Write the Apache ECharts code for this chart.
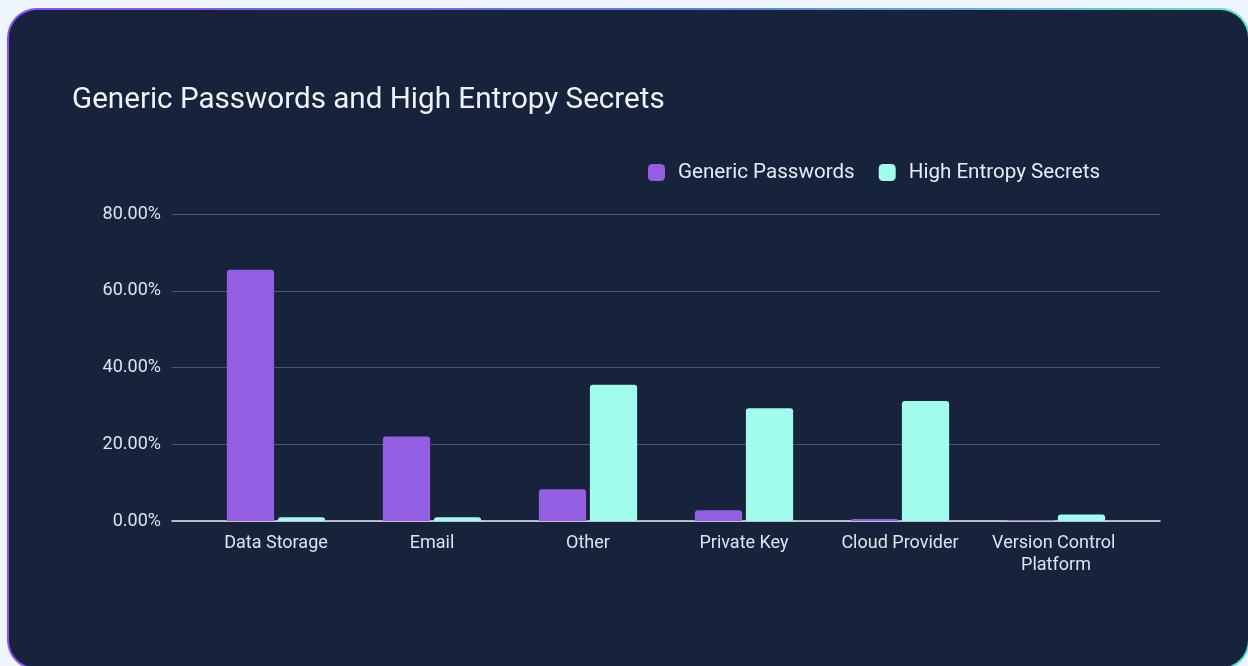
<!DOCTYPE html>
<html>
<head>
<meta charset="utf-8">
<script src="https://cdn.jsdelivr.net/npm/echarts@6/dist/echarts.min.js"></script>
<style>
  html, body { margin: 0; padding: 0; width: 1248px; height: 666px; overflow: hidden; background: #eef5fe; }
  .card {
    position: absolute; left: 7px; top: 8px; width: 1243px; height: 662px;
    box-sizing: border-box; border-radius: 30px; border: 2px solid transparent;
    background: linear-gradient(#17223b, #17223b) padding-box,
                linear-gradient(90deg, #8d4dfa 0%, #5b7fe0 55%, #5fe3d2 100%) border-box;
  }
  #chart { position: absolute; left: 0; top: 0; width: 1248px; height: 666px; }
</style>
</head>
<body>
<div class="card"></div>
<div id="chart"></div>
<script>
// Share of findings per secret category (percent)
const categories = ['Data Storage', 'Email', 'Other', 'Private Key', 'Cloud Provider', 'Version Control Platform'];
const genericPasswords = [65.5, 22.0, 8.3, 2.8, 0.5, 0.2];
const highEntropySecrets = [1.0, 1.0, 35.5, 29.4, 31.3, 1.7];
const yTicks = [0, 20, 40, 60, 80];

const labelColor = '#dde3f0';
const chart = echarts.init(document.getElementById('chart'), null, { renderer: 'canvas' });

chart.setOption({
  backgroundColor: 'transparent',
  animation: false,
  title: {
    text: 'Generic Passwords and High Entropy Secrets',
    left: 72, top: 86, padding: 0,
    textStyle: { color: '#eef2fb', fontFamily: 'Roboto', fontSize: 29.6, fontWeight: 'normal' }
  },
  legend: {
    left: 648, top: 162, padding: 0,
    itemWidth: 17, itemHeight: 17, itemGap: 24,
    icon: 'roundRect',
    textStyle: { color: '#e6ebf7', fontFamily: 'Roboto', fontSize: 20.6, padding: [0, 0, 0, 8] },
    data: ['Generic Passwords', 'High Entropy Secrets']
  },
  grid: [
    { left: 172, right: 88, top: 214, bottom: 145 },
    { left: 198, right: 114, top: 214, bottom: 145 }
  ],
  xAxis: [
    {
      gridIndex: 0, type: 'category', data: [''],
      axisLine: { show: true, lineStyle: { color: '#e8e8ee', width: 1.5 } },
      axisTick: { show: false }, axisLabel: { show: false }, splitLine: { show: false }
    },
    {
      gridIndex: 1, type: 'category', data: categories,
      axisLine: { show: false }, axisTick: { show: false },
      axisLabel: {
        interval: 0,
        color: labelColor, fontFamily: 'Roboto', fontSize: 18, margin: 11,
        width: 140, overflow: 'break', lineHeight: 22
      }
    }
  ],
  yAxis: [
    {
      gridIndex: 0, type: 'value',
      min: yTicks[0], max: yTicks[yTicks.length - 1], interval: 20,
      axisLine: { show: false }, axisTick: { show: false },
      axisLabel: {
        color: labelColor, fontFamily: 'Roboto', fontSize: 18, margin: 11,
        formatter: v => v.toFixed(2) + '%'
      },
      splitLine: { lineStyle: { color: '#4a5470', width: 1 } }
    },
    {
      gridIndex: 1, type: 'value',
      min: yTicks[0], max: yTicks[yTicks.length - 1], interval: 20,
      show: false
    }
  ],
  series: [
    {
      name: 'Generic Passwords', type: 'bar', xAxisIndex: 1, yAxisIndex: 1,
      data: genericPasswords, barCategoryGap: '37%', barGap: '8%',
      itemStyle: { color: '#935ee2', borderRadius: [3, 3, 0, 0] }
    },
    {
      name: 'High Entropy Secrets', type: 'bar', xAxisIndex: 1, yAxisIndex: 1,
      data: highEntropySecrets, barCategoryGap: '37%', barGap: '8%',
      itemStyle: { color: '#a1fcee', borderRadius: [3, 3, 0, 0] }
    }
  ]
});
</script>
</body>
</html>
